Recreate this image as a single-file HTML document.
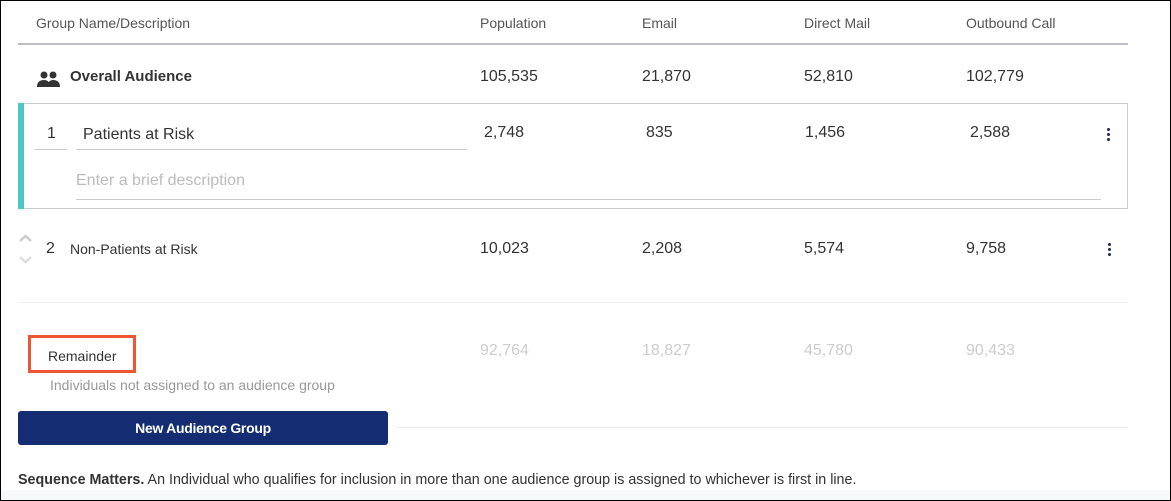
<!DOCTYPE html>
<html><head><style>
body{margin:0;width:1171px;height:501px;overflow:hidden;background:#fff;font-family:"Liberation Sans",sans-serif;}
#f{position:absolute;left:0;top:0;width:1171px;height:501px;}
#b{position:absolute;left:0;top:0;width:1169px;height:499px;border:1px solid #000;z-index:5;}
.t{position:absolute;white-space:nowrap;}
.h{font-size:14px;color:#555;top:15px;}
.n{font-size:16px;color:#333;}
.g{color:#ccc;font-size:16px;top:342px;}
.line{position:absolute;}
.k{position:absolute;width:3px;}
.k i{display:block;width:3px;height:3px;border-radius:50%;background:#1a2a5a;margin-bottom:2px;}
</style></head><body><div id="b"></div><div id="f">
<div class="t h" style="left:36px">Group Name/Description</div>
<div class="t h" style="left:480px">Population</div>
<div class="t h" style="left:642px">Email</div>
<div class="t h" style="left:804px">Direct Mail</div>
<div class="t h" style="left:966px">Outbound Call</div>
<div class="line" style="left:18px;top:43px;width:1110px;height:2px;background:#bbbcc4"></div>
<svg style="position:absolute;left:37px;top:71px" width="23" height="16" viewBox="0 0 23 16"><circle cx="7" cy="4" r="3.5" fill="#333"/><circle cx="16" cy="4" r="3.5" fill="#333"/><path d="M0 16 Q0 9 7 9 Q13 9 13 16Z M10 16 Q11 9 16 9 Q23 9 23 16Z" fill="#333"/></svg>
<div class="t" style="left:70px;top:68px;font-size:15px;font-weight:bold;color:#333">Overall Audience</div>
<div class="t n" style="left:480px;top:68px">105,535</div>
<div class="t n" style="left:642px;top:68px">21,870</div>
<div class="t n" style="left:804px;top:68px">52,810</div>
<div class="t n" style="left:966px;top:68px">102,779</div>
<div style="position:absolute;left:18px;top:103px;width:1109px;height:104px;border:1px solid #ccc;border-left:none"></div>
<div style="position:absolute;left:18px;top:103px;width:6px;height:106px;background:#4fc7c0"></div>
<div class="t n" style="left:47px;top:125px">1</div>
<div class="line" style="left:34px;top:149px;width:33px;height:1px;background:#ccc"></div>
<div class="t n" style="left:83px;top:126px">Patients at Risk</div>
<div class="line" style="left:76px;top:149px;width:391px;height:1px;background:#ccc"></div>
<div class="t" style="left:76px;top:172px;font-size:16px;color:#bbb">Enter a brief description</div>
<div class="line" style="left:76px;top:199px;width:1025px;height:1px;background:#ccc"></div>
<div class="t n" style="left:484px;top:124px">2,748</div>
<div class="t n" style="left:646px;top:124px">835</div>
<div class="t n" style="left:805px;top:124px">1,456</div>
<div class="t n" style="left:970px;top:124px">2,588</div>
<div class="k" style="left:1107px;top:128px"><i></i><i></i><i></i></div>
<svg style="position:absolute;left:18px;top:232px" width="16" height="34" viewBox="0 0 16 34"><path d="M2 9 L7.5 4 L13 9" stroke="#ccc" stroke-width="2.5" fill="none"/><path d="M2 25 L7.5 30 L13 25" stroke="#ddd" stroke-width="2.5" fill="none"/></svg>
<div class="t n" style="left:46px;top:240px">2</div>
<div class="t" style="left:70px;top:241px;font-size:14px;color:#333">Non-Patients at Risk</div>
<div class="t n" style="left:480px;top:240px">10,023</div>
<div class="t n" style="left:642px;top:240px">2,208</div>
<div class="t n" style="left:804px;top:240px">5,574</div>
<div class="t n" style="left:966px;top:240px">9,758</div>
<div class="k" style="left:1108px;top:243px"><i></i><i></i><i></i></div>
<div class="line" style="left:18px;top:302px;width:1110px;height:1px;background:#eee"></div>
<div style="position:absolute;left:28px;top:335px;width:102px;height:32px;border:3px solid #ee5533"></div>
<div class="t" style="left:48px;top:348px;font-size:14px;color:#333">Remainder</div>
<div class="t" style="left:50px;top:377px;font-size:14px;color:#999">Individuals not assigned to an audience group</div>
<div class="t g" style="left:480px">92,764</div>
<div class="t g" style="left:642px">18,827</div>
<div class="t g" style="left:804px">45,780</div>
<div class="t g" style="left:966px">90,433</div>
<div style="position:absolute;left:18px;top:411px;width:370px;height:34px;background:#142d72;border-radius:3px;color:#fff;font-weight:bold;font-size:14px;text-align:center;line-height:34px;letter-spacing:-0.3px">New Audience Group</div>
<div class="line" style="left:396px;top:427px;width:732px;height:1px;background:#eee"></div>
<div class="t" style="left:18px;top:472px;font-size:14.3px;color:#333"><b>Sequence Matters.</b> An Individual who qualifies for inclusion in more than one audience group is assigned to whichever is first in line.</div>
<div class="line" style="left:0;top:490px;width:1171px;height:11px;background:#f7f8fa"></div>
</div></body></html>
